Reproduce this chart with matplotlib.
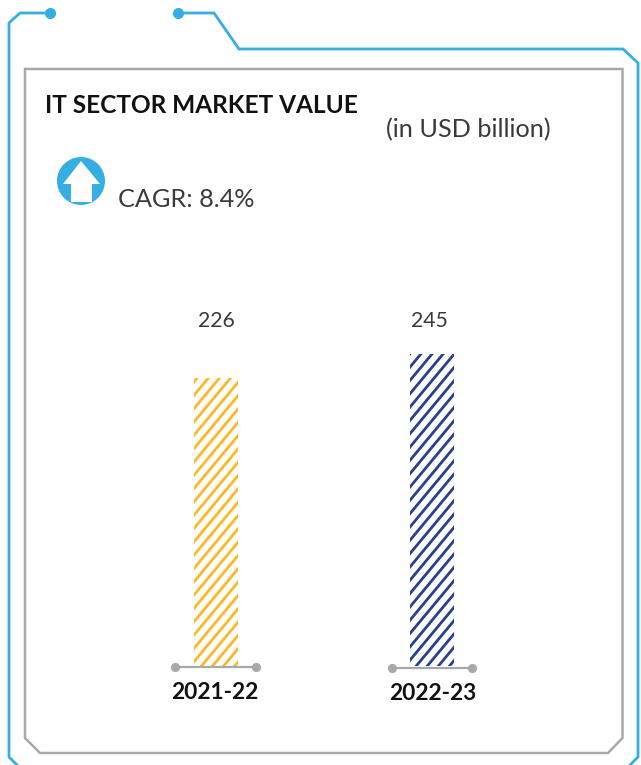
import numpy as np
import matplotlib.pyplot as plt
from matplotlib.patches import Circle, Polygon

W, H = 641, 765
DPI = 100

years = ["2021-22", "2022-23"]
values = [226, 245]
bar_colors = ["#fdb827", "#27408f"]

blue = "#35aee3"
grey = "#a7a8ab"

plt.rcParams["font.family"] = ["Lato", "DejaVu Sans"]

fig = plt.figure(figsize=((W + 0.01) / DPI, (H + 0.01) / DPI), dpi=DPI, facecolor="white")

# overlay in pixel coordinates for the frame and labels
bg = fig.add_axes([0, 0, 1, 1])
bg.set_xlim(0, W)
bg.set_ylim(H, 0)
bg.axis("off")

# blue outer frame
bg.plot([50, 20, 9, 9, 18], [13, 13, 23, 757, 766], color=blue, lw=2, solid_joinstyle="miter")
bg.plot([178, 214, 239, 623, 638, 638, 629], [13, 13, 49, 49, 63, 757, 766], color=blue, lw=2,
        solid_joinstyle="miter")
bg.plot([50, 178], [13, 13], ls="none", marker="o", ms=7, color=blue)

# grey inner frame
bg.add_patch(Polygon([(25, 69), (622.5, 69), (622.5, 738), (608, 753), (40, 753), (25, 738)],
                     closed=True, fill=False, edgecolor=grey, lw=1.8))

# arrow icon
bg.add_patch(Circle((81, 181), 24, color=blue, lw=0))
bg.add_patch(Polygon([(81, 161), (100, 184), (92, 184), (92, 202), (71, 202), (71, 184), (63, 184)],
                     closed=True, color="white", lw=0))

bg.text(45, 105, "IT SECTOR MARKET VALUE", fontsize=17.6, fontweight="bold", color="#111111",
        va="center", ha="left")
bg.text(386, 130, "(in USD billion)", fontsize=18.2, color="#3a3a3a", va="center", ha="left")
bg.text(118, 199, "CAGR: 8.4%", fontsize=18.2, color="#3a3a3a", va="center", ha="left")

# bars, baseline at y=666 px and 1.274 px per unit
top, bottom = 69, 666
ax = fig.add_axes([108 / W, 1 - bottom / H, 432 / W, (bottom - top) / H])
ax.set_xlim(-0.5, 1.5)
ax.set_ylim(0, (bottom - top) / 1.274)
ax.axis("off")
ax.patch.set_alpha(0)

# stripes are steeper than 45 degrees, so draw them clipped to each bar instead of a hatch
period = 11.1
slope = 1.2
phase = [208.3, 421]
for i, (v, c) in enumerate(zip(values, bar_colors)):
    bar = ax.bar(i, v, width=44 / 216, facecolor="white", linewidth=0)[0]
    y_top = bottom - v * 1.274
    for x in phase[i] + period * np.arange(-5, 35):
        # each stripe runs from above the bar top down to below the baseline
        line, = bg.plot([x + 20 / slope, x - 340 / slope], [y_top - 20, y_top + 340], color=c, lw=2.0,
                        solid_capstyle="butt")
        line.set_clip_path(bar)

# value labels and category labels
for x, v in zip([216.5, 429.5], values):
    bg.text(x, 320.5, str(v), fontsize=15.3, color="#3a3a3a", ha="center", va="center")
for x, y, yr in zip([214.5, 433], [692.5, 693.5], years):
    bg.text(x, y, yr, fontsize=16.4, fontweight="bold", color="#111111", ha="center", va="center")

# baseline with end dots under each bar
for x0, x1, y in [(175, 256, 667), (392, 472, 668)]:
    bg.plot([x0, x1], [y, y], color=grey, lw=1.6, marker="o", ms=5.6, zorder=5)

ax.set_zorder(1)
bg.set_zorder(2)
bg.patch.set_alpha(0)

fig.savefig("out.png", dpi=DPI)
